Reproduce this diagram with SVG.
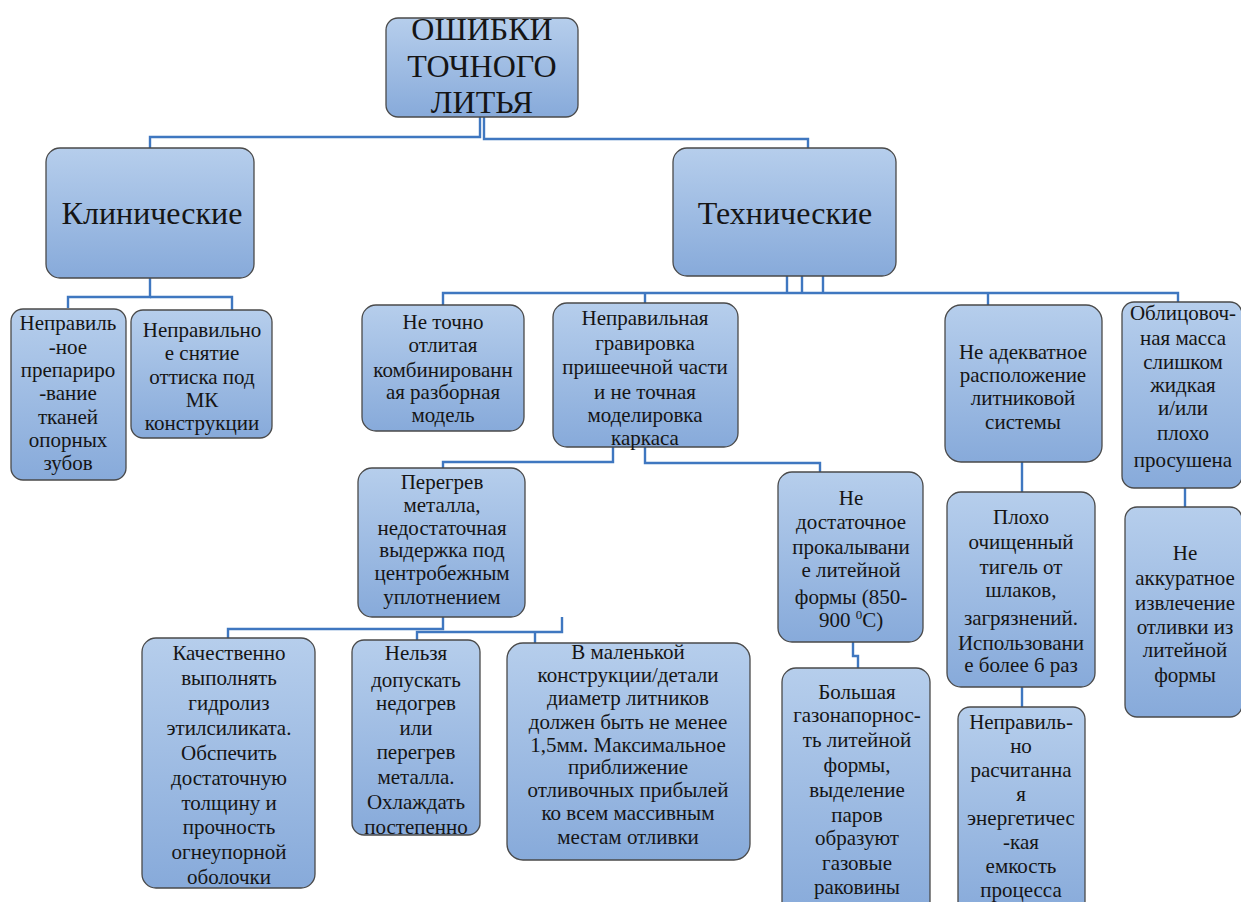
<svg xmlns="http://www.w3.org/2000/svg" width="1241" height="902" viewBox="0 0 1241 902">
<defs>
<linearGradient id="g" x1="0" y1="0" x2="0" y2="1">
<stop offset="0" stop-color="#b6ceec"/>
<stop offset="1" stop-color="#87aada"/>
</linearGradient>
<style>
.box{fill:url(#g);stroke:#4a4a4a;stroke-width:1.3}
.t{font-family:'Liberation Serif',serif;font-size:21px;text-anchor:middle;fill:#151515}
.c{fill:none;stroke:#3f77c0;stroke-width:2.4}
</style>
</defs>
<rect width="1241" height="902" fill="#ffffff"/>
<g id="connectors">
<path class="c" d="M480 117 V137 H150 V148"/>
<path class="c" d="M484 117 V139 H808 V148"/>
<path class="c" d="M150 278 V297 H68 V308"/>
<path class="c" d="M150 297 H232 V310"/>
<path class="c" d="M787 276 V293 M802 276 V293 M823 276 V293"/>
<path class="c" d="M443 305 V293 H1178 V302"/>
<path class="c" d="M645 293 V303 M988 293 V305"/>
<path class="c" d="M613 447 V462 H443 V468"/>
<path class="c" d="M645 447 V463 H820 V472"/>
<path class="c" d="M1022 462 V492"/>
<path class="c" d="M1185 488 V507"/>
<path class="c" d="M853 642 V656 H858 V668"/>
<path class="c" d="M1022 687 V707"/>
<path class="c" d="M443 617 V629 H228 V638"/>
<path class="c" d="M417 640 V632 H562 V617"/>
<path class="c" d="M535 632 V643"/>
</g>
<g style="font-family:'Liberation Serif',serif">
<g id="root">
<rect class="box" x="386" y="18" width="192" height="99" rx="12"/>
<text class="t" style="font-size:32px" x="482" y="40">ОШИБКИ</text>
<text class="t" style="font-size:32px" x="482" y="77">ТОЧНОГО</text>
<text class="t" style="font-size:32px" x="482" y="113">ЛИТЬЯ</text>
</g>
<g id="clinical">
<rect class="box" x="46" y="148" width="208" height="130" rx="14"/>
<text class="t" style="font-size:32px" x="152" y="224">Клинические</text>
</g>
<g id="technical">
<rect class="box" x="673" y="148" width="223" height="128" rx="14"/>
<text class="t" style="font-size:32px" x="785" y="224">Технические</text>
</g>
<g id="c1">
<rect class="box" x="11" y="309" width="115" height="171" rx="12"/>
<text class="t" x="68" y="330">Неправиль</text>
<text class="t" x="68" y="354">-ное</text>
<text class="t" x="68" y="377">препариро</text>
<text class="t" x="68" y="400">-вание</text>
<text class="t" x="68" y="424">тканей</text>
<text class="t" x="68" y="447">опорных</text>
<text class="t" x="68" y="470">зубов</text>
</g>
<g id="c2">
<rect class="box" x="131" y="310" width="141" height="128" rx="12"/>
<text class="t" x="202" y="337">Неправильно</text>
<text class="t" x="202" y="360">е снятие</text>
<text class="t" x="202" y="384">оттиска под</text>
<text class="t" x="202" y="407">МК</text>
<text class="t" x="202" y="430">конструкции</text>
</g>
<g id="t1">
<rect class="box" x="362" y="305" width="162" height="126" rx="14"/>
<text class="t" x="443" y="329">Не точно</text>
<text class="t" x="443" y="352">отлитая</text>
<text class="t" x="443" y="377">комбинированн</text>
<text class="t" x="443" y="399">ая разборная</text>
<text class="t" x="443" y="422">модель</text>
</g>
<g id="t2">
<rect class="box" x="553" y="303" width="185" height="144" rx="14"/>
<text class="t" x="645" y="325">Неправильная</text>
<text class="t" x="645" y="350">гравировка</text>
<text class="t" x="645" y="374">пришеечной части</text>
<text class="t" x="645" y="399">и не точная</text>
<text class="t" x="645" y="422">моделировка</text>
<text class="t" x="645" y="445">каркаса</text>
</g>
<g id="t3">
<rect class="box" x="945" y="305" width="157" height="157" rx="16"/>
<text class="t" x="1023" y="359">Не адекватное</text>
<text class="t" x="1023" y="382">расположение</text>
<text class="t" x="1023" y="405">литниковой</text>
<text class="t" x="1023" y="429">системы</text>
</g>
<g id="t4">
<rect class="box" x="1122" y="302" width="120" height="186" rx="12"/>
<text class="t" x="1183" y="320">Облицовоч-</text>
<text class="t" x="1183" y="345">ная масса</text>
<text class="t" x="1183" y="369">слишком</text>
<text class="t" x="1183" y="392">жидкая</text>
<text class="t" x="1183" y="415">и/или</text>
<text class="t" x="1183" y="440">плохо</text>
<text class="t" x="1183" y="467">просушена</text>
</g>
<g id="p1">
<rect class="box" x="358" y="468" width="167" height="149" rx="14"/>
<text class="t" x="442" y="489">Перегрев</text>
<text class="t" x="442" y="512">металла,</text>
<text class="t" x="442" y="535">недостаточная</text>
<text class="t" x="442" y="557">выдержка под</text>
<text class="t" x="442" y="580">центробежным</text>
<text class="t" x="442" y="604">уплотнением</text>
</g>
<g id="p2">
<rect class="box" x="778" y="472" width="145" height="170" rx="14"/>
<text class="t" x="851" y="505">Не</text>
<text class="t" x="851" y="529">достаточное</text>
<text class="t" x="851" y="554">прокалывани</text>
<text class="t" x="851" y="577">е литейной</text>
<text class="t" x="851" y="604">формы (850-</text>
<text class="t" x="851" y="627">900 <tspan font-size="13" dy="-8">0</tspan><tspan dy="8">С)</tspan></text>
</g>
<g id="p3">
<rect class="box" x="947" y="492" width="148" height="195" rx="14"/>
<text class="t" x="1021" y="524">Плохо</text>
<text class="t" x="1021" y="549">очищенный</text>
<text class="t" x="1021" y="574">тигель от</text>
<text class="t" x="1021" y="597">шлаков,</text>
<text class="t" x="1021" y="625">загрязнений.</text>
<text class="t" x="1021" y="650">Использовани</text>
<text class="t" x="1021" y="672">е  более 6 раз</text>
</g>
<g id="p4">
<rect class="box" x="1125" y="507" width="117" height="210" rx="12"/>
<text class="t" x="1185" y="560">Не</text>
<text class="t" x="1185" y="585">аккуратное</text>
<text class="t" x="1185" y="610">извлечение</text>
<text class="t" x="1185" y="634">отливки из</text>
<text class="t" x="1185" y="657">литейной</text>
<text class="t" x="1185" y="682">формы</text>
</g>
<g id="q1">
<rect class="box" x="142" y="638" width="173" height="250" rx="14"/>
<text class="t" x="229" y="660">Качественно</text>
<text class="t" x="229" y="685">выполнять</text>
<text class="t" x="229" y="710">гидролиз</text>
<text class="t" x="229" y="735">этилсиликата.</text>
<text class="t" x="229" y="760">Обспечить</text>
<text class="t" x="229" y="785">достаточную</text>
<text class="t" x="229" y="810">толщину и</text>
<text class="t" x="229" y="834">прочность</text>
<text class="t" x="229" y="859">огнеупорной</text>
<text class="t" x="229" y="884">оболочки</text>
</g>
<g id="q2">
<rect class="box" x="352" y="640" width="128" height="195" rx="12"/>
<text class="t" x="416" y="660">Нельзя</text>
<text class="t" x="416" y="687">допускать</text>
<text class="t" x="416" y="710">недогрев</text>
<text class="t" x="416" y="735">или</text>
<text class="t" x="416" y="759">перегрев</text>
<text class="t" x="416" y="784">металла.</text>
<text class="t" x="416" y="809">Охлаждать</text>
<text class="t" x="416" y="834">постепенно</text>
</g>
<g id="q3">
<rect class="box" x="507" y="643" width="243" height="217" rx="16"/>
<text class="t" x="628" y="659">В маленькой</text>
<text class="t" x="628" y="682">конструкции/детали</text>
<text class="t" x="628" y="705">диаметр литников</text>
<text class="t" x="628" y="729">должен быть не менее</text>
<text class="t" x="628" y="752">1,5мм. Максимальное</text>
<text class="t" x="628" y="774">приближение</text>
<text class="t" x="628" y="797">отливочных прибылей</text>
<text class="t" x="628" y="820">ко всем массивным</text>
<text class="t" x="628" y="844">местам отливки</text>
</g>
<g id="q4">
<rect class="box" x="782" y="668" width="148" height="250" rx="14"/>
<text class="t" x="857" y="699">Большая</text>
<text class="t" x="857" y="722">газонапорнос-</text>
<text class="t" x="857" y="747">ть литейной</text>
<text class="t" x="857" y="772">формы,</text>
<text class="t" x="857" y="797">выделение</text>
<text class="t" x="857" y="822">паров</text>
<text class="t" x="857" y="845">образуют</text>
<text class="t" x="857" y="870">газовые</text>
<text class="t" x="857" y="894">раковины</text>
</g>
<g id="q5">
<rect class="box" x="958" y="707" width="127" height="210" rx="12"/>
<text class="t" x="1021" y="729">Неправиль-</text>
<text class="t" x="1021" y="753">но</text>
<text class="t" x="1021" y="777">расчитанна</text>
<text class="t" x="1021" y="801">я</text>
<text class="t" x="1021" y="825">энергетичес</text>
<text class="t" x="1021" y="849">-кая</text>
<text class="t" x="1021" y="873">емкость</text>
<text class="t" x="1021" y="897">процесса</text>
</g>
</g>
</svg>
